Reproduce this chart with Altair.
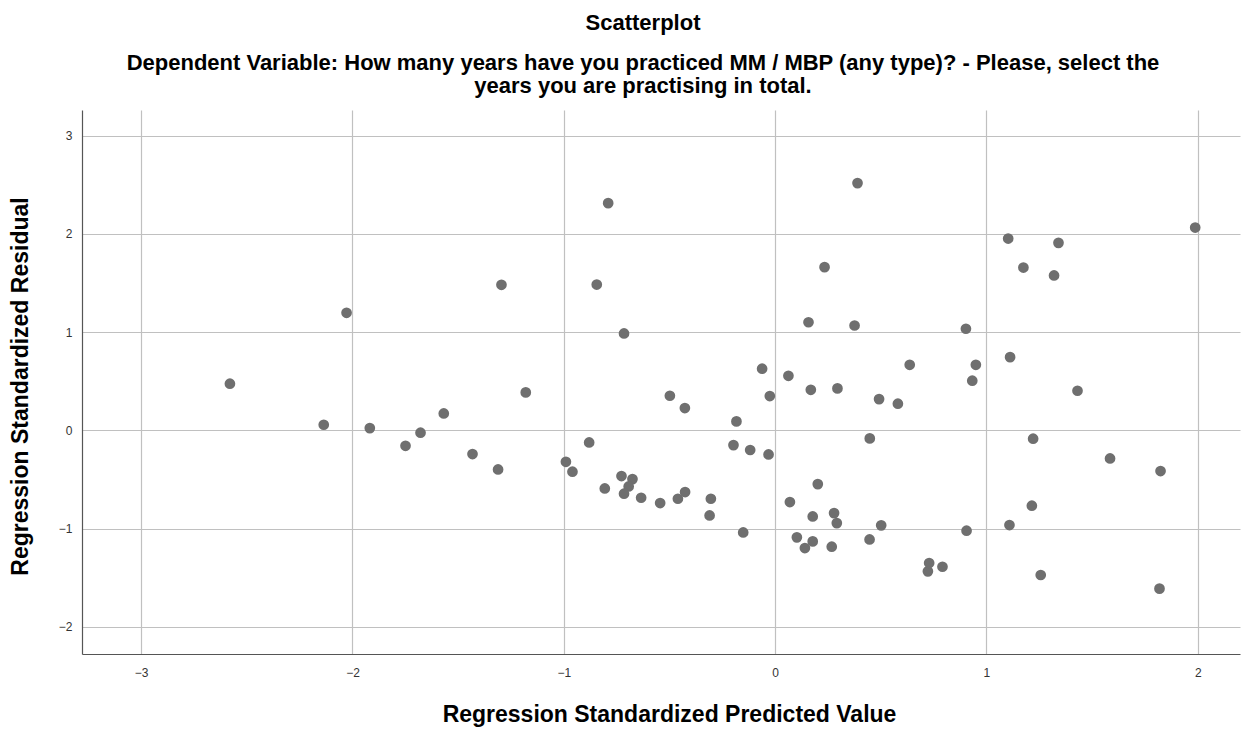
import altair as alt
import pandas as pd

# Standardized predicted values (x) and standardized residuals (y)
pred = [-2.58, -2.136, -2.028, -1.918, -1.749, -1.678, -1.568, -1.432, -1.311, -1.295,
        -1.18, -0.99, -0.959, -0.88, -0.844, -0.79, -0.806, -0.727, -0.675, -0.693,
        -0.715, -0.715, -0.634, -0.544, -0.498, -0.46, -0.427, -0.426, -0.304, -0.31,
        -0.183, -0.197, -0.118, -0.151, -0.0615, -0.025, -0.031, 0.063, 0.07, 0.103,
        0.141, 0.158, 0.169, 0.178, 0.178, 0.202, 0.234, 0.268, 0.279, 0.292,
        0.295, 0.376, 0.39, 0.447, 0.448, 0.492, 0.502, 0.581, 0.637, 0.723,
        0.729, 0.792, 0.903, 0.906, 0.933, 0.95, 1.103, 1.109, 1.112, 1.175,
        1.215, 1.221, 1.257, 1.32, 1.341, 1.431, 1.585, 1.819, 1.824, 1.988]
resid = [0.475, 0.057, 1.196, 0.023, -0.157, -0.024, 0.172, -0.241, -0.398, 1.481,
         0.386, -0.32, -0.421, -0.123, 1.484, 2.312, -0.591, -0.465, -0.496, -0.571,
         -0.645, 0.986, -0.686, -0.74, 0.352, -0.696, 0.227, -0.628, -0.696, -0.866,
         0.091, -0.15, -0.2, -1.039, 0.627, 0.349, -0.245, 0.555, -0.73, -1.089,
         -1.198, 1.10, 0.413, -0.876, -1.13, -0.547, 1.661, -1.184, -0.842, -0.944,
         0.427, 1.067, 2.516, -1.11, -0.082, 0.318, -0.967, 0.271, 0.667, -1.435,
         -1.35, -1.388, 1.034, -1.021, 0.505, 0.667, 1.952, -0.964, 0.745, 1.657,
         -0.767, -0.085, -1.472, 1.576, 1.908, 0.403, -0.286, -1.611, -0.414, 2.064]

x_ticks = [-3, -2, -1, 0, 1, 2]
y_ticks = [-2, -1, 0, 1, 2, 3]

df = pd.DataFrame({"pred": pred, "resid": resid})

FONT = "'Liberation Sans', Arial, sans-serif"

chart = alt.Chart(df).mark_circle(
    size=115, color="#6f6f6f", opacity=1
).encode(
    x=alt.X("pred:Q",
            scale=alt.Scale(domain=[-3.28, 2.2], nice=False, zero=False),
            axis=alt.Axis(values=x_ticks, title="Regression Standardized Predicted Value",
                          titleX=587, titleY=49, titleAnchor="middle")),
    y=alt.Y("resid:Q",
            scale=alt.Scale(domain=[-2.276, 3.26], nice=False, zero=False),
            axis=alt.Axis(values=y_ticks, title="Regression Standardized Residual",
                          titleX=-62, titleY=276, titleAngle=-90,
                          titleBaseline="middle", titleAlign="center")),
).properties(
    width=1158,
    height=544,
    autosize=alt.AutoSizeParams(type="none"),
    padding={"left": 82, "top": 110, "right": 15, "bottom": 77},
    title=alt.TitleParams(
        text="Scatterplot",
        subtitle=["Dependent Variable: How many years have you practiced MM / MBP (any type)? - Please, select the",
                  "years you are practising in total."],
        anchor="middle",
        dx=-18,
        offset=12,
        font=FONT,
        fontSize=22,
        fontWeight="bold",
        color="#000000",
        subtitleFont=FONT,
        subtitleFontSize=22,
        subtitleFontWeight="bold",
        subtitleColor="#000000",
        subtitlePadding=18,
        subtitleLineHeight=23,
    ),
).configure_view(
    stroke=None
).configure_axis(
    grid=True,
    gridColor="#c0c0c0",
    gridWidth=1.2,
    domainColor="#555555",
    domainWidth=1.2,
    ticks=False,
    labelFont=FONT,
    labelFontSize=12,
    labelColor="#333333",
    titleFont=FONT,
    titleFontSize=23,
    titleFontWeight="bold",
    titleColor="#000000",
).configure_axisX(
    labelPadding=13
).configure_axisY(
    labelPadding=10
)

chart.save("out.html", embed_options={"renderer": "svg", "actions": False})
